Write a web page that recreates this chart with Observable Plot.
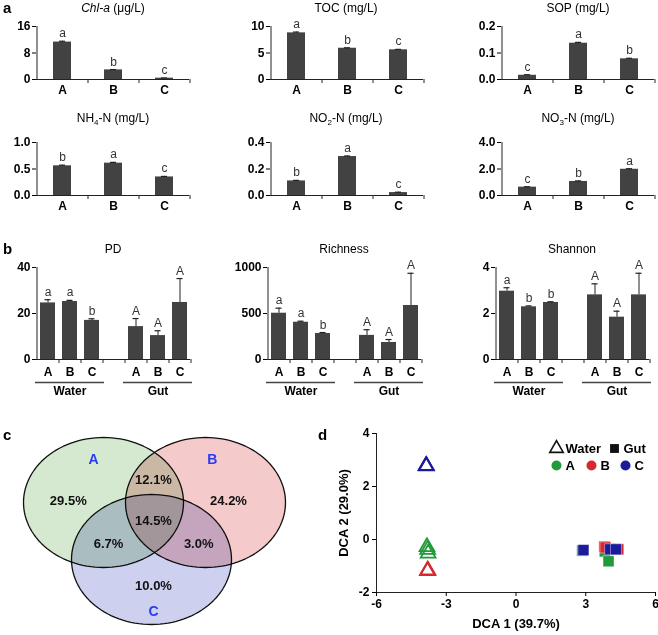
<!DOCTYPE html>
<html><head><meta charset="utf-8">
<script src="https://cdn.jsdelivr.net/npm/d3@7"></script>
<script src="https://cdn.jsdelivr.net/npm/@observablehq/plot@0.6"></script>
<style>
body{margin:0;background:#fff;}
#root{position:relative;width:658px;height:635px;font-family:"Liberation Sans",Arial,sans-serif;overflow:hidden;background:#fff;color:#000;}
.p{position:absolute;}
.lbl{position:absolute;font-weight:bold;font-size:15px;transform:translateY(-50%);}
.ttl{position:absolute;font-size:12px;transform:translate(-50%,-50%);white-space:nowrap;}
</style></head><body><div id="root"></div>
<script>
const FONT = '"Liberation Sans", Arial, sans-serif';
// ---------- panel a data ----------
const sites = ["A", "B", "C"];
const chlValues = [11.3, 2.9, 0.4], chlErrors = [0.25, 0.1, 0.05], chlLetters = ["a", "b", "c"];
const tocValues = [8.8, 5.9, 5.6], tocErrors = [0.15, 0.08, 0.08], tocLetters = ["a", "b", "c"];
const sopValues = [0.016, 0.137, 0.078], sopErrors = [0.002, 0.003, 0.002], sopLetters = ["c", "a", "b"];
const nh4Values = [0.56, 0.61, 0.35], nh4Errors = [0.012, 0.015, 0.01], nh4Letters = ["b", "a", "c"];
const no2Values = [0.11, 0.294, 0.022], no2Errors = [0.004, 0.004, 0.003], no2Letters = ["b", "a", "c"];
const no3Values = [0.63, 1.06, 1.98], no3Errors = [0.03, 0.04, 0.04], no3Letters = ["c", "b", "a"];
const chlTicks = [0, 8, 16], tocTicks = [0, 5, 10], sopTicks = [0, 0.1, 0.2];
const nh4Ticks = [0, 0.5, 1.0], no2Ticks = [0, 0.2, 0.4], no3Ticks = [0, 2, 4];
// ---------- panel b data ----------
const groups = ["Water", "Gut"];
const GAP = "gap";
const bKeys = [...sites.map(s => "Water " + s), GAP, ...sites.map(s => "Gut " + s)];
const pdValues = [24.6, 25.2, 17.0, 14.3, 10.4, 24.8], pdErrors = [1.4, 0.5, 0.7, 3.5, 2.1, 10.4];
const pdLetters = ["a", "a", "b", "A", "A", "A"];
const richValues = [503, 405, 283, 262, 185, 587], richErrors = [55, 11, 10, 62, 32, 350];
const richLetters = ["a", "a", "b", "A", "A", "A"];
const shanValues = [2.97, 2.29, 2.48, 2.81, 1.84, 2.81], shanErrors = [0.15, 0.04, 0.03, 0.48, 0.26, 0.94];
const shanLetters = ["a", "b", "b", "A", "A", "A"];
const pdTicks = [0, 20, 40], richTicks = [0, 500, 1000], shanTicks = [0, 2, 4];
// ---------- panel c data ----------
const vennSets = ["A", "B", "C"];
const vennCenterX = [0, 1.275, 0.6], vennCenterY = [0, 0, -0.877];
const vennFills = ["#d4e9cf", "#f4caca", "#cdd0ef"];
const vennLabelX = [-0.125, 1.36, 0.625], vennLabelY = [0.66, 0.66, -1.677];
const vennRegionText = ["29.5%", "12.1%", "24.2%", "14.5%", "6.7%", "3.0%", "10.0%"];
const vennRegionX = [-0.44, 0.625, 1.5625, 0.625, 0.0625, 1.19, 0.625];
const vennRegionY = [0.03, 0.354, 0.03, -0.277, -0.63, -0.63, -1.277];
// ---------- panel d data ----------
const waterSite = ["A", "A", "A", "B", "B", "B", "C", "C", "C"];
const waterX = [-3.83, -3.8, -3.78, -3.8, -3.79, -3.81, -3.87, -3.86, -3.85];
const waterY = [-0.28, -0.38, -0.52, -1.17, -1.16, -1.18, 2.78, 2.79, 2.77];
const gutSite = ["A", "A", "A", "B", "B", "B", "C", "C", "C"];
const gutX = [2.85, 3.82, 3.98, 3.8, 4.4, 3.85, 2.9, 4.05, 4.3];
const gutY = [-0.42, -0.45, -0.82, -0.27, -0.37, -0.3, -0.4, -0.37, -0.37];
const siteColors = {A: "#1f9b3a", B: "#d7282f", C: "#1b1b9b"};

const root = document.getElementById("root");
function place(node, left, top) {
  const d = document.createElement("div");
  d.className = "p"; d.style.left = left + "px"; d.style.top = top + "px";
  d.appendChild(node); root.appendChild(d);
}
function html(cls, left, top, inner, extra) {
  const d = document.createElement("div");
  d.className = cls; d.style.left = left + "px"; d.style.top = top + "px";
  d.innerHTML = inner; if (extra) Object.assign(d.style, extra);
  root.appendChild(d);
}

function barPanel(o) {
  const realKeys = o.keys.filter(k => k !== GAP);
  const data = realKeys.map((k, i) => ({key: k, value: o.values[i], err: o.errors[i], letter: o.letters[i]}));
  const plotW = o.width - o.ml - o.mr, plotH = o.height - o.mt - o.mb;
  const step = plotW / o.keys.length;
  const bw = step * (1 - o.padIn);
  const capInset = Math.max(0, (bw - 6) / 2);
  const yMax = o.yTicks[o.yTicks.length - 1];
  const tickLen = 4 * yMax / plotH;
  return Plot.plot({
    width: o.width, height: o.height,
    marginLeft: o.ml, marginRight: o.mr, marginTop: o.mt, marginBottom: o.mb,
    style: {fontFamily: FONT, fontSize: "12px", background: "transparent", overflow: "visible"},
    x: {type: "band", domain: o.keys, paddingInner: o.padIn, paddingOuter: o.padIn / 2},
    y: {domain: [0, yMax]},
    marks: [
      Plot.barY(data, {x: "key", y: "value", fill: "#424242"}),
      Plot.ruleX(data, {x: "key", y1: "value", y2: d => d.value + d.err, stroke: "#222", strokeWidth: 1}),
      Plot.tickY(data, {x: "key", y: d => d.value + d.err, stroke: "#222", strokeWidth: 1.2, insetLeft: capInset, insetRight: capInset}),
      Plot.text(data, {x: "key", y: d => d.value + d.err, text: "letter", dy: -4, lineAnchor: "bottom", fontSize: 12, fill: "#333"}),
      Plot.ruleY([0], {stroke: "#222", strokeWidth: 1}),
      Plot.ruleX([o.keys[0]], {dx: -step / 2, y1: 0, y2: yMax, stroke: "#222", strokeWidth: 1}),
      Plot.ruleX(o.keys, {dx: step / 2, y1: 0, y2: -tickLen, stroke: "#222", strokeWidth: 1}),
      Plot.axisY({ticks: o.yTicks, tickFormat: o.yFormat, tickSize: 4, tickPadding: 2, fontSize: 12, fontWeight: "bold", label: null}),
      Plot.axisX({tickSize: 0, tickPadding: o.xPad, fontSize: 12, fontWeight: "bold", label: null, tickFormat: o.xFormat}),
      ...(o.extra ? o.extra(step) : [])
    ]
  });
}

// ---------- panel a ----------
const fmtInt = d => d3.format("d")(d);
const fmt1 = d => d3.format(".1f")(d);
const aCommon = {keys: sites, padIn: 0.65, height: 100, mt: 26, mb: 21, xPad: 6, xFormat: d => d};
const aLeft = [0, 220, 440], aWidth = [200, 210, 218], aML = [36, 50, 61];
const row1 = [
  {values: chlValues, errors: chlErrors, letters: chlLetters, yTicks: chlTicks, yFormat: fmtInt},
  {values: tocValues, errors: tocErrors, letters: tocLetters, yTicks: tocTicks, yFormat: fmtInt},
  {values: sopValues, errors: sopErrors, letters: sopLetters, yTicks: sopTicks, yFormat: fmt1}
];
const row2 = [
  {values: nh4Values, errors: nh4Errors, letters: nh4Letters, yTicks: nh4Ticks, yFormat: fmt1},
  {values: no2Values, errors: no2Errors, letters: no2Letters, yTicks: no2Ticks, yFormat: fmt1},
  {values: no3Values, errors: no3Errors, letters: no3Letters, yTicks: no3Ticks, yFormat: fmt1}
];
[row1, row2].forEach((row, r) => row.forEach((p, i) => {
  const w = aWidth[i], ml = aML[i];
  place(barPanel({...aCommon, ...p, width: w, ml, mr: w - ml - 153}), aLeft[i], r * 116);
}));
const aTitles = [
  ["<i>Chl-a</i> (μg/L)", "TOC (mg/L)", "SOP (mg/L)"],
  ["NH<sub style='font-size:8px'>4</sub>-N (mg/L)", "NO<sub style='font-size:8px'>2</sub>-N (mg/L)", "NO<sub style='font-size:8px'>3</sub>-N (mg/L)"]
];
const titleX = [113, 346, 578];
aTitles.forEach((row, r) => row.forEach((t, i) => html("ttl", titleX[i], r === 0 ? 8 : 119, t)));

// ---------- panel b ----------
const bLeft = [0, 220, 440], bWidth = [200, 210, 218], bML = [36, 47, 55];
const bPanels = [
  {values: pdValues, errors: pdErrors, letters: pdLetters, yTicks: pdTicks},
  {values: richValues, errors: richErrors, letters: richLetters, yTicks: richTicks},
  {values: shanValues, errors: shanErrors, letters: shanLetters, yTicks: shanTicks}
];
const groupData = groups.map(g => ({name: g, first: g + " " + sites[0], mid: g + " " + sites[1], last: g + " " + sites[2]}));
bPanels.forEach((p, i) => {
  const w = bWidth[i], ml = bML[i];
  place(barPanel({
    ...p, keys: bKeys, padIn: 0.32, width: w, ml, mr: w - ml - 154, height: 159, mt: 27, mb: 40, xPad: 8,
    yFormat: fmtInt, xFormat: d => d === GAP ? "" : d.split(" ")[1],
    extra: () => [
      Plot.ruleY(groupData, {y: 0, x1: "first", x2: "last", dy: 23, insetLeft: -5, insetRight: -5, stroke: "#444", strokeWidth: 1.5}),
      Plot.text(groupData, {x: "mid", y: 0, text: "name", dy: 32, fontSize: 12, fontWeight: "bold"})
    ]
  }), bLeft[i], 240);
});
const bTitles = ["PD", "Richness", "Shannon"], bTitleX = [113, 344, 572];
bTitles.forEach((t, i) => html("ttl", bTitleX[i], 249, t));

// ---------- panel c (Venn) ----------
const vennMarks = vennSets.map((s, i) => {
  const pts = d3.range(0, 360, 3).map(a => ({
    x: vennCenterX[i] + Math.cos(a * Math.PI / 180),
    y: vennCenterY[i] + Math.sin(a * Math.PI / 180)
  }));
  return Plot.line(pts, {x: "x", y: "y", curve: "linear-closed", fill: vennFills[i], stroke: "#111", strokeWidth: 1.3, mixBlendMode: "multiply"});
});
const regions = vennRegionText.map((t, i) => ({t, x: vennRegionX[i], y: vennRegionY[i]}));
const setLabels = vennSets.map((s, i) => ({t: s, x: vennLabelX[i], y: vennLabelY[i]}));
place(Plot.plot({
  width: 330, height: 215, margin: 0,
  style: {fontFamily: FONT, background: "transparent", overflow: "visible"},
  x: {domain: [-103 / 80, 227 / 80], axis: null},
  y: {domain: [-133 / 65, 82 / 65], axis: null},
  marks: [
    ...vennMarks,
    Plot.text(regions, {x: "x", y: "y", text: "t", fontSize: 13, fontWeight: "bold", fill: "#111"}),
    Plot.text(setLabels, {x: "x", y: "y", text: "t", fontSize: 14, fontWeight: "bold", fill: "#2a3cf0"})
  ]
}), 0, 420);

// ---------- panel d (DCA) ----------
const water = waterSite.map((s, i) => ({site: s, x: waterX[i], y: waterY[i]}));
const gut = gutSite.map((s, i) => ({site: s, x: gutX[i], y: gutY[i]}));
const legendMarks = [];
const legendShapes = ["triangle", "square"], legendShapeLabels = ["Water", "Gut"], legendShapeDx = [-99, -41];
legendShapes.forEach((sym, i) => {
  legendMarks.push(Plot.dot([0], {frameAnchor: "top-right", dx: legendShapeDx[i], dy: 15, symbol: sym,
    r: 5, fill: sym === "triangle" ? "none" : "#111", stroke: "#111", strokeWidth: sym === "triangle" ? 1.6 : 0}));
  legendMarks.push(Plot.text([legendShapeLabels[i]], {frameAnchor: "top-right", dx: legendShapeDx[i] + 9, dy: 15, text: d => d,
    textAnchor: "start", lineAnchor: "middle", fontSize: 13, fontWeight: "bold"}));
});
const legendSiteDx = [-99, -64, -30];
sites.forEach((s, i) => {
  legendMarks.push(Plot.dot([0], {frameAnchor: "top-right", dx: legendSiteDx[i], dy: 32, r: 5, fill: siteColors[s]}));
  legendMarks.push(Plot.text([s], {frameAnchor: "top-right", dx: legendSiteDx[i] + 9, dy: 32, text: d => d,
    textAnchor: "start", lineAnchor: "middle", fontSize: 13, fontWeight: "bold"}));
});
const orderedGut = ["A", "B", "C"].flatMap(s => gut.filter(d => d.site === s));
place(Plot.plot({
  width: 328, height: 215, marginLeft: 46, marginRight: 3, marginTop: 13, marginBottom: 43,
  style: {fontFamily: FONT, fontSize: "12px", background: "transparent", overflow: "visible"},
  x: {domain: [-6, 6]},
  y: {domain: [-2, 4]},
  marks: [
    Plot.ruleX([-6], {stroke: "#222"}),
    Plot.ruleY([-2], {stroke: "#222"}),
    Plot.axisX({ticks: [-6, -3, 0, 3, 6], tickFormat: d => String(d), tickSize: 4, tickPadding: 3, fontSize: 12, fontWeight: "bold", label: null}),
    Plot.axisY({ticks: [-2, 0, 2, 4], tickFormat: d => String(d), tickSize: 4, tickPadding: 3, fontSize: 12, fontWeight: "bold", label: null}),
    Plot.text(["DCA 1 (39.7%)"], {frameAnchor: "bottom", dy: 31, text: d => d, lineAnchor: "middle", textAnchor: "middle", fontSize: 13, fontWeight: "bold"}),
    Plot.text(["DCA 2 (29.0%)"], {frameAnchor: "left", dx: -33, rotate: -90, text: d => d, lineAnchor: "middle", textAnchor: "middle", fontSize: 13, fontWeight: "bold"}),
    Plot.dot(water, {x: "x", y: "y", symbol: "triangle", r: 5.5, fill: "none", stroke: d => siteColors[d.site], strokeWidth: 1.8}),
    Plot.dot(orderedGut, {x: "x", y: "y", symbol: "square", r: 6.2, fill: d => siteColors[d.site], stroke: "#fff", strokeWidth: 0.4}),
    ...legendMarks
  ]
}), 330, 420);

// ---------- panel letters ----------
html("lbl", 3, 7, "a");
html("lbl", 3, 248, "b");
html("lbl", 3, 434, "c");
html("lbl", 318, 434, "d");
</script></body></html>
